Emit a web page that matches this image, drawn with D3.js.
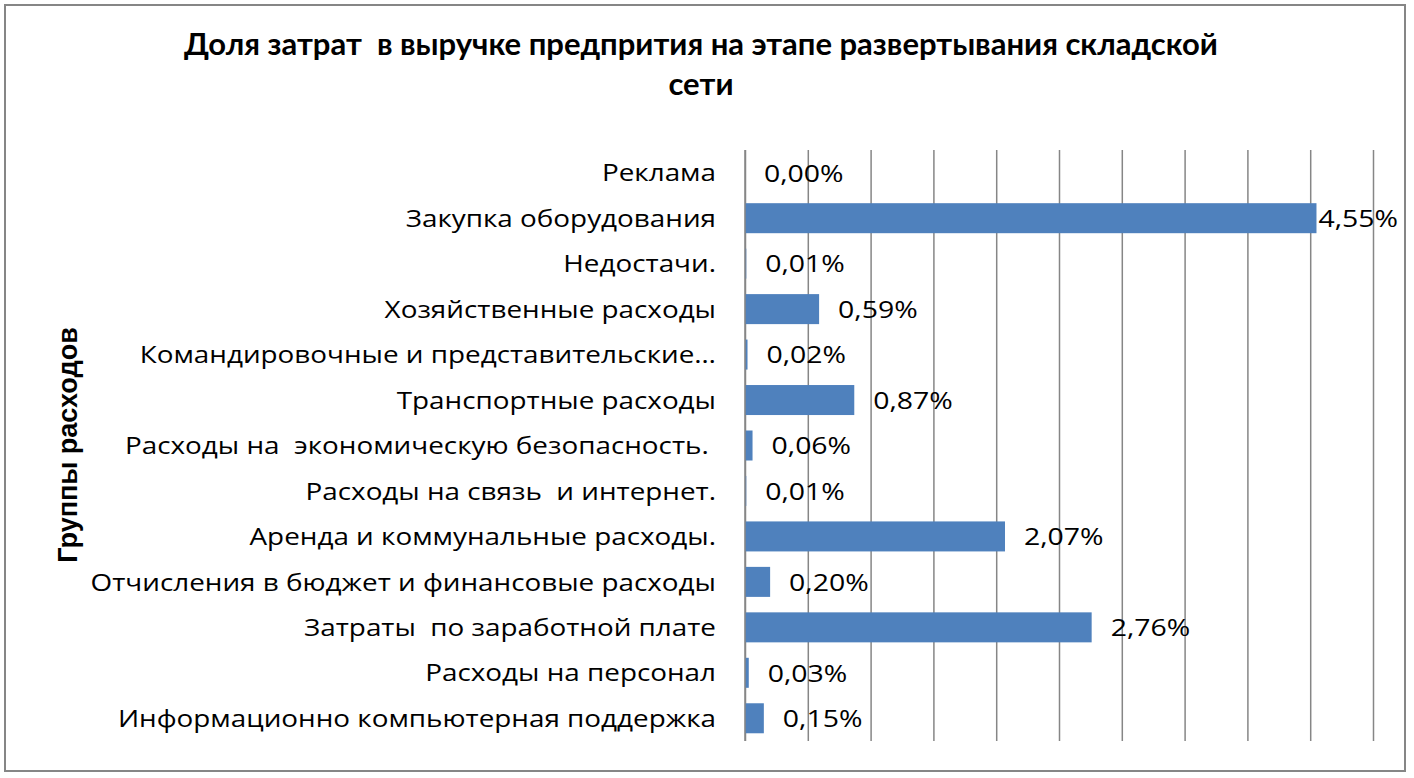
<!DOCTYPE html>
<html><head><meta charset="utf-8">
<script src="https://cdn.jsdelivr.net/npm/d3@7"></script>
<style>body{margin:0;background:#fff} text{white-space:pre}</style>
</head><body>
<svg id="c" width="1414" height="778"></svg>
<script>
const categories = ["Реклама","Закупка оборудования","Недостачи.","Хозяйственные расходы","Командировочные и представительские…","Транспортные расходы","Расходы на  экономическую безопасность. ","Расходы на связь  и интернет.","Аренда и коммунальные расходы.","Отчисления в бюджет и финансовые расходы","Затраты  по заработной плате","Расходы на персонал","Информационно компьютерная поддержка"];
const values = [0.00,4.55,0.01,0.59,0.02,0.87,0.06,0.01,2.07,0.20,2.76,0.03,0.15];
const xTicks = [0,0.5,1,1.5,2,2.5,3,3.5,4,4.5,5];
const titleLines = ["Доля затрат  в выручке предпрития на этапе развертывания складской","сети"];
const yTitle = "Группы расходов";

const W = 1414, H = 778;
const svg = d3.select("#c");
svg.append("rect").attr("x",5).attr("y",5).attr("width",1400).attr("height",766)
  .attr("fill","#fff").attr("stroke","#868686").attr("stroke-width",2);

const plot = {left:745, right:1373, top:150, bottom:741};
const x = d3.scaleLinear().domain([0,5]).range([plot.left, plot.right]);
const y = d3.scaleBand().domain(categories).range([plot.top, plot.bottom]).paddingInner(0.34).paddingOuter(0.17);

// gridlines
const grid = d3.axisBottom(x).tickValues(xTicks).tickSize(-(plot.bottom-plot.top)).tickFormat("");
const gg = svg.append("g").attr("transform",`translate(0,${plot.bottom})`).call(grid);
gg.select(".domain").remove();
gg.selectAll("line").attr("stroke","#868686").attr("stroke-width",1.5);

// bars
svg.append("g").selectAll("rect").data(values).join("rect")
  .attr("x", x(0)).attr("y",(d,i)=>y(categories[i]))
  .attr("width", d=>Math.max(0, x(d)-x(0))).attr("height", y.bandwidth())
  .attr("fill","#4F81BD");

// axis line on top
svg.append("line").attr("x1",x(0)).attr("x2",x(0)).attr("y1",plot.top).attr("y2",plot.bottom)
  .attr("stroke","#868686").attr("stroke-width",1.5);

// category labels
const sx = 1.16;
svg.append("g").selectAll("text").data(categories).join("text")
  .attr("transform", d=>`translate(716,${y(d)+y.bandwidth()/2}) scale(${sx},1)`)
  .attr("text-anchor","end").attr("dy","0.36em")
  .style("font-family","'Open Sans'").style("font-size","24px").attr("fill","#000")
  .text(d=>d);

// value labels
const fmt = v => v.toFixed(2).replace(".",",")+"%";
svg.append("g").selectAll("text").data(values).join("text")
  .attr("dy","0.36em")
  .style("font-family","'Open Sans'").style("font-size","24.5px").attr("fill","#000")
  .text(d=>fmt(d))
  .each(function(d,i){
    const w = this.getComputedTextLength()*sx;
    let lx = x(d) + 19;
    if (lx + w > 1398) lx = 1398 - w;
    d3.select(this).attr("transform",`translate(${lx},${y(categories[i])+y.bandwidth()/2}) scale(${sx},1)`);
  });

// title
svg.append("g").selectAll("text").data(titleLines).join("text")
  .attr("x",701).attr("y",(d,i)=>55+i*40).attr("text-anchor","middle")
  .style("font-family","Lato").style("font-weight","bold").style("font-size","31px")
  .text(d=>d);

// y title
svg.append("text").attr("transform","translate(77,445) rotate(-90)").attr("text-anchor","middle")
  .style("font-family","'Liberation Sans'").style("font-weight","bold").style("font-size","27px")
  .text(yTitle);
</script>
</body></html>
